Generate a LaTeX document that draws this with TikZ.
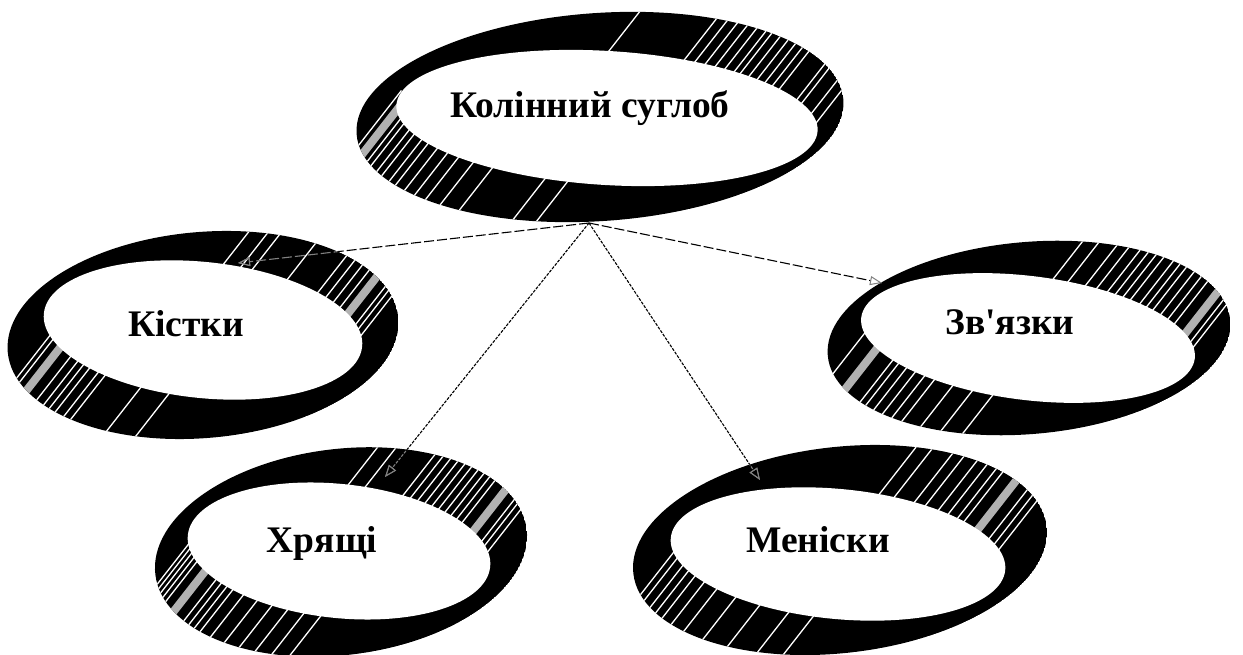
\documentclass[tikz,border=0pt]{standalone}
\usepackage{fontspec}
\setmainfont{Liberation Serif}[Ligatures=TeXOff]
\usetikzlibrary{arrows.meta}

\tikzset{
  ringband/.style={fill=black},
  ringstripe/.style={draw=white, line width=1.3pt},
  ringpatch/.style={draw=black!30, line width=8pt},
  ringtext/.style={font=\bfseries\fontsize{37.5}{42}\selectfont, anchor=base, inner sep=0pt},
  linktip/.style={-{Triangle[open, length=12pt, width=9pt, line width=1pt, color=black!50]}},
  longdash/.style={linktip, draw=black, line width=1.1pt, dash pattern=on 10pt off 3pt},
  shortdash/.style={linktip, draw=black, line width=1.1pt, dash pattern=on 3pt off 1.3pt},
  onband/.style={draw=black!50},
}

% #1 outer centre, #2/#3 outer radii, #4 outer tilt,
% #5 inner centre, #6/#7 inner radii, #8 inner tilt.
% Stripe and patch angles are read from \stripelist and \patchlist.
\newcommand\bandring[8]{%
  \pgfmathsetmacro\midA{(#2+#6)/2}%
  \pgfmathsetmacro\midB{(#3+#7)/2}%
  \begin{scope}
    \clip[rotate around={#4:(#1)}] (#1) ellipse [x radius=#2, y radius=#3];
    \fill[ringband, rotate around={#4:(#1)}] (#1) ellipse [x radius=#2, y radius=#3];
    \begin{scope}[shift={(#1)}]
      \foreach \t in \patchlist {
        \draw[ringpatch] ({\midA*cos(\t)-45*cos(52)},{\midB*sin(\t)-45*sin(52)})
          -- ({\midA*cos(\t)+45*cos(52)},{\midB*sin(\t)+45*sin(52)});
      }
      \foreach \t in \stripelist {
        \draw[ringstripe] ({\midA*cos(\t)-45*cos(52)},{\midB*sin(\t)-45*sin(52)})
          -- ({\midA*cos(\t)+45*cos(52)},{\midB*sin(\t)+45*sin(52)});
      }
    \end{scope}
  \end{scope}
  \fill[white, rotate around={#8:(#5)}] (#5) ellipse [x radius=#6, y radius=#7];
}

% a connector, shown grey where it runs over the black band of its target ring
% #1 style, #2 start, #3 end, #4 ring centre, #5/#6 ring radii, #7 ring tilt
\newcommand\bandlink[7]{%
  \draw[#1] (#2) -- (#3);
  \begin{scope}
    \clip[rotate around={#7:(#4)}] (#4) ellipse [x radius=#5, y radius=#6];
    \draw[#1, onband] (#2) -- (#3);
  \end{scope}
}

\begin{document}
\begin{tikzpicture}[x=1pt, y=1pt]
  \fill[white] (0,0) rectangle (1243,654);
  \useasboundingbox (0,0) rectangle (1243,654);

  % knee joint
  \def\stripelist{84, 64,61,58,55,52,49,47,44,41,38,35,32, 23,20, 12,5, 186, 197,200,204,207,211,214,218,222,226,231,237, 252,258}
  \def\patchlist{192}
  \bandring{600,537}{244}{104}{4}{607,536}{211}{67}{-3.5}

  % bones
  \def\stripelist{80,74,70, 57, 44,40,36,32, 20,17,13, 196,199, 212,216,219,222,226,229, 243,253}
  \def\patchlist{27,205}
  \bandring{203,319}{196}{103}{5}{203,324}{160}{68}{-6}

  % ligaments
  \def\stripelist{78,73,67,63,59,56,53,50,46,43,40,36,32,28, 14,10, 192, 214,217,221,225,229,233,240,247,254}
  \def\patchlist{20,204}
  \bandring{1029,316}{202}{96}{5}{1028,316}{168}{62}{-7}

  % cartilage
  \def\stripelist{83,77, 63,60,57,54,51,48,45,42,39,36, 22,19,15, 188,191,194,197,200, 214,217,220,223,228,234,240,246,252,258}
  \def\patchlist{29,207}
  \bandring{341,102}{187}{103}{7}{339,103}{152}{67}{-6}

  % menisci
  \def\stripelist{72,67,60,56,51,47,43,40, 26,22,18, 195,199,204,208,212,217,223,231,240,250,258}
  \def\patchlist{33}
  \bandring{840,104}{208}{103}{6.5}{838,100}{168}{65}{-5.5}

  % labels
  \node[ringtext] (knee) at (590,536) {Колінний суглоб};
  \node[ringtext] (bones) at (186,317) {Кістки};
  \node[ringtext] (ligaments) at (1010,319) {Зв'язки};
  \node[ringtext] (cartilage) at (322,102) {Хрящі};
  \node[ringtext] (menisci) at (818,102) {Меніски};

  % connectors
  \coordinate (apex) at (589,431);
  \coordinate (bones-in) at (238,391);
  \coordinate (ligaments-in) at (882,371);
  \coordinate (cartilage-in) at (385,177);
  \coordinate (menisci-in) at (760,174);
  \bandlink{longdash}{apex}{bones-in}{203,319}{196}{103}{5}
  \bandlink{longdash}{apex}{ligaments-in}{1029,316}{202}{96}{5}
  \bandlink{shortdash}{apex}{cartilage-in}{341,102}{187}{103}{7}
  \bandlink{shortdash}{apex}{menisci-in}{840,104}{208}{103}{6.5}
\end{tikzpicture}
\end{document}
